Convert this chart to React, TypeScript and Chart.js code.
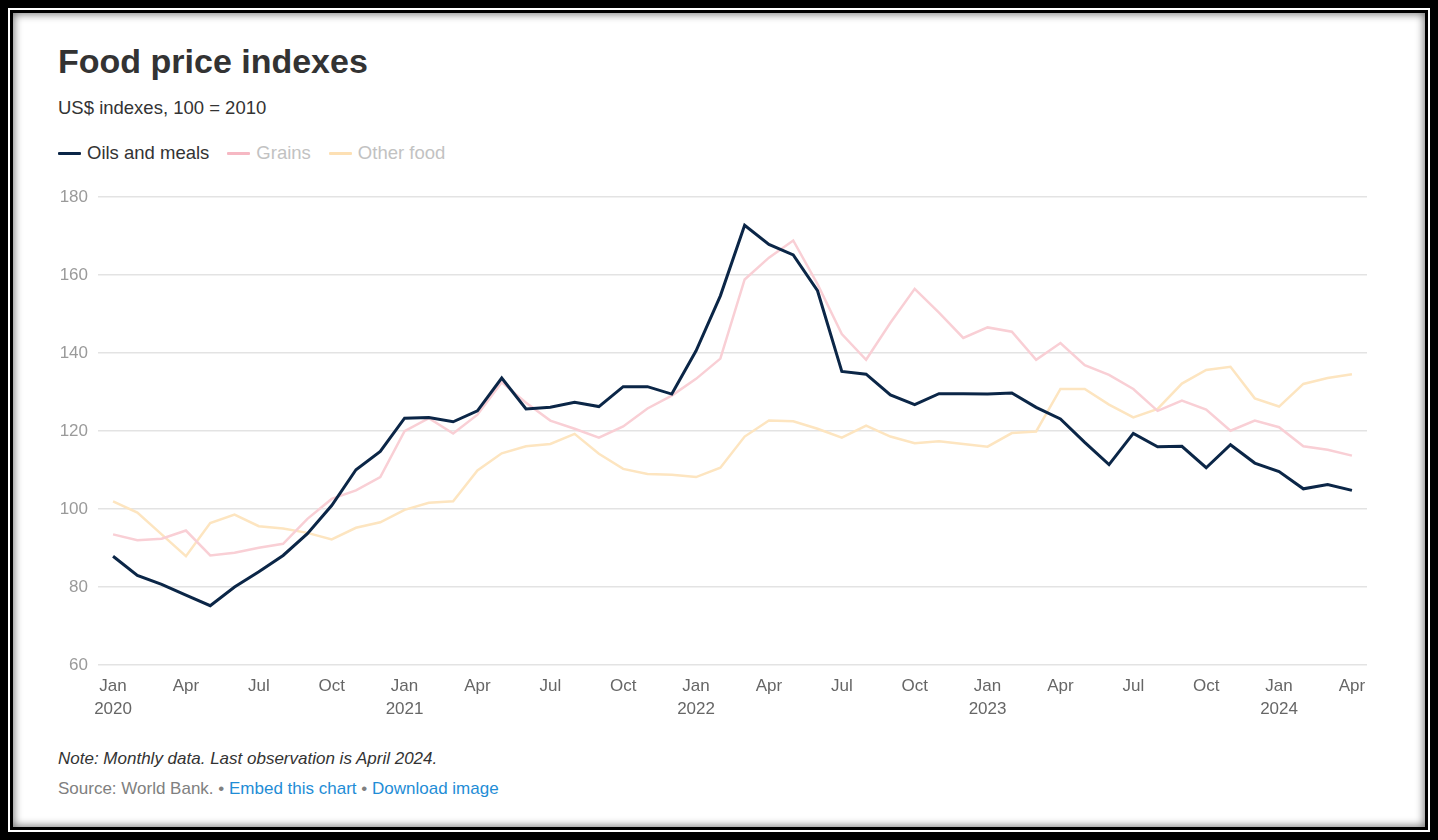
import React, { useEffect, useRef } from "react";
import { Chart, registerables } from "chart.js";

Chart.register(...registerables);

const months = ["Jan","Feb","Mar","Apr","May","Jun","Jul","Aug","Sep","Oct","Nov","Dec"];
const startYear = 2020;
const tickIndexes = [0, 3, 6, 9, 12, 15, 18, 21, 24, 27, 30, 33, 36, 39, 42, 45, 48, 51];

const oilsAndMeals = [
  87.9, 83.0, 80.7, 77.9, 75.2, 80.0, 83.9, 88.1, 93.7, 100.9, 110.1, 114.8,
  123.3, 123.5, 122.4, 125.2, 133.6, 125.7, 126.1, 127.4, 126.3, 131.4, 131.4, 129.5,
  140.6, 154.7, 172.8, 167.9, 165.2, 156.0, 135.3, 134.6, 129.3, 126.8, 129.6, 129.6,
  129.5, 129.8, 126.1, 123.1, 117.1, 111.4, 119.4, 116.0, 116.1, 110.6, 116.5, 111.8,
  109.6, 105.2, 106.3, 104.8,
];
const grains = [
  93.5, 92.0, 92.4, 94.5, 88.1, 88.8, 90.1, 91.1, 97.5, 102.6, 104.8, 108.2,
  120.0, 123.3, 119.4, 124.2, 132.5, 127.3, 122.7, 120.6, 118.3, 121.2, 125.8, 129.1,
  133.4, 138.6, 158.9, 164.5, 168.9, 157.7, 144.9, 138.3, 147.8, 156.5, 150.4, 143.9,
  146.6, 145.5, 138.3, 142.6, 136.9, 134.4, 130.8, 125.2, 127.8, 125.5, 120.1, 122.7,
  121.0, 116.1, 115.2, 113.7,
];
const otherFood = [
  102.0, 99.1, 93.5, 87.9, 96.4, 98.6, 95.6, 95.0, 93.9, 92.2, 95.2, 96.6,
  99.8, 101.6, 102.0, 109.9, 114.3, 116.1, 116.7, 119.3, 114.2, 110.3, 109.0, 108.8,
  108.2, 110.6, 118.6, 122.7, 122.5, 120.6, 118.3, 121.4, 118.6, 116.9, 117.4, 116.7,
  116.0, 119.5, 119.9, 130.8, 130.8, 126.8, 123.5, 125.7, 132.2, 135.7, 136.5, 128.4,
  126.3, 132.1, 133.6, 134.6,
];

const seriesNames = ["Oils and meals", "Grains", "Other food"];
const seriesColors = ["#0b2647", "#f9cfd5", "#fde5c0"];
const legendLineColors = ["#0b2647", "#f6b8c3", "#fde0b4"];
const legendTextColors = ["#333333", "#c2c2c2", "#c2c2c2"];

const FONT = '"Liberation Sans", Arial, Helvetica, sans-serif';

function monthLabel(i: number): string | string[] {
  const m = i % 12;
  const y = startYear + Math.floor(i / 12);
  return m === 0 ? [months[m], String(y)] : months[m];
}

export default function App() {
  const canvasRef = useRef<HTMLCanvasElement | null>(null);

  useEffect(() => {
    document.body.style.margin = "0";
    const canvas = canvasRef.current;
    if (!canvas) return;
    const allSeries = [oilsAndMeals, grains, otherFood];
    const chart = new Chart(canvas, {
      type: "line",
      data: {
        datasets: allSeries.map((s, k) => ({
          label: seriesNames[k],
          data: s.map((v, i) => ({ x: i, y: v })),
          borderColor: seriesColors[k],
          backgroundColor: seriesColors[k],
          borderWidth: k === 0 ? 3 : 2.5,
          pointRadius: 0,
          pointHoverRadius: 0,
          tension: 0,
          fill: false,
          borderJoinStyle: "miter" as const,
        })),
      },
      options: {
        animation: false,
        responsive: true,
        maintainAspectRatio: false,
        layout: { padding: { top: 13, right: 13, left: 0, bottom: 0 } },
        plugins: {
          legend: { display: false },
          tooltip: { enabled: false },
          title: { display: false },
        },
        scales: {
          x: {
            type: "linear",
            min: -0.62,
            max: 51.62,
            grid: { display: false },
            border: { display: false },
            afterBuildTicks: (scale: any) => {
              scale.ticks = tickIndexes.map((v) => ({ value: v }));
            },
            afterFit: (scale: any) => {
              scale.height = 58;
            },
            ticks: {
              autoSkip: false,
              maxRotation: 0,
              minRotation: 0,
              padding: 2,
              color: "#666666",
              font: { family: FONT, size: 17, lineHeight: 1.35 },
              callback: (value: any) => monthLabel(Number(value)),
            },
          },
          y: {
            min: 60,
            max: 180,
            grid: { color: "#e3e3e3", lineWidth: 1.5, drawTicks: false },
            border: { display: false },
            afterFit: (scale: any) => {
              scale.width = 48;
            },
            ticks: {
              stepSize: 20,
              padding: 10,
              color: "#9a9a9a",
              font: { family: FONT, size: 17 },
            },
          },
        },
      },
    });
    return () => chart.destroy();
  }, []);

  const abs = (left: number, top: number, extra: React.CSSProperties = {}): React.CSSProperties => ({
    position: "absolute",
    left,
    top,
    whiteSpace: "nowrap",
    fontFamily: FONT,
    ...extra,
  });

  return (
    <div style={{ position: "fixed", left: 0, top: 0, width: 1438, height: 840, background: "#000", boxSizing: "border-box", padding: 8 }}>
      <div style={{ width: "100%", height: "100%", background: "#fff", boxSizing: "border-box", padding: 2 }}>
        <div style={{ width: "100%", height: "100%", background: "#000", boxSizing: "border-box", padding: 3 }}>
          <div style={{ width: "100%", height: "100%", background: "#fff", boxShadow: "inset 0 0 8px 1px rgba(0,0,0,0.55)" }} />
        </div>
      </div>

      <div style={abs(58, 44, { fontSize: 34, lineHeight: "34px", fontWeight: 700, color: "#333333" })}>
        Food price indexes
      </div>
      <div style={abs(58, 99, { fontSize: 18.5, lineHeight: "18.5px", color: "#333333" })}>
        US$ indexes, 100 = 2010
      </div>

      <div style={abs(58, 144, { fontSize: 18.5, lineHeight: "18.5px", display: "flex", alignItems: "center" })}>
        {seriesNames.map((name, k) => (
          <span key={name} style={{ display: "inline-flex", alignItems: "center", marginRight: 18 }}>
            <span style={{ display: "inline-block", width: 23, height: 3, background: legendLineColors[k], marginRight: 6, borderRadius: 1 }} />
            <span style={{ color: legendTextColors[k] }}>{name}</span>
          </span>
        ))}
      </div>

      <div style={{ position: "absolute", left: 50, top: 177, width: 1330, height: 546 }}>
        <canvas ref={canvasRef} />
      </div>

      <div style={abs(58, 750, { fontSize: 17, lineHeight: "17px", fontStyle: "italic", color: "#333333" })}>
        Note: Monthly data. Last observation is April 2024.
      </div>
      <div style={abs(58, 780, { fontSize: 17, lineHeight: "17px", color: "#808080" })}>
        Source: World Bank. •{" "}
        <span style={{ color: "#1f8dd6" }}>Embed this chart</span> •{" "}
        <span style={{ color: "#1f8dd6" }}>Download image</span>
      </div>
    </div>
  );
}
